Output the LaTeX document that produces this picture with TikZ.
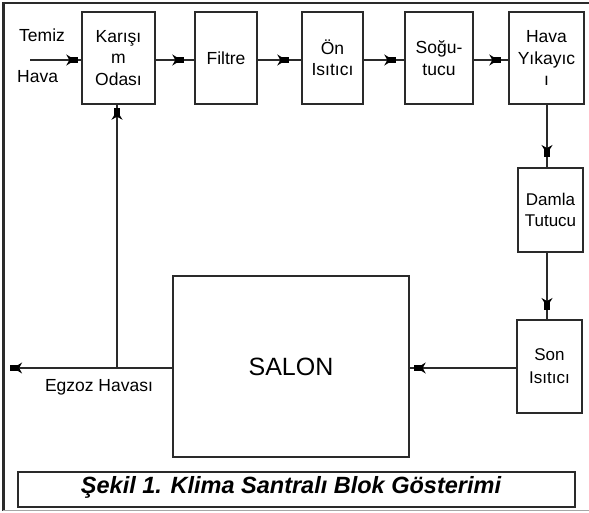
\documentclass[tikz,border=0pt]{standalone}
\usepackage{fontspec}
\setmainfont{Liberation Sans}
\usetikzlibrary{arrows.meta,decorations.markings}
\definecolor{ln}{HTML}{2A2A2A}
\tikzset{
  blk/.style={draw=ln, line width=1.4pt, rectangle, inner sep=0pt, align=center,
    font=\fontsize{17.5}{21.5}\selectfont},
  lbl/.style={inner sep=0pt, font=\fontsize{17.5}{21.5}\selectfont},
  flow/.style={draw=ln, line width=1.3pt, postaction={decorate},
    decoration={markings, mark=at position -#1 with {\arrow[black]{Stealth[length=9pt,width=11pt,inset=3pt,sep=-5pt]Square[length=8pt,width=6.5pt]}}}},
}
\begin{document}
\begin{tikzpicture}[x=1pt,y=-1pt]
\useasboundingbox (0,0) rectangle (589,512);
% outer frame
\draw[ln, line width=3pt] (3,2) -- (3,511);
\draw[ln, line width=1.4pt] (3,3) -- (589,3);
\draw[black!35, line width=1pt] (3,510.5) -- (589,510.5);
% boxes
\node[blk, minimum width=73pt, minimum height=92pt] (kar) at (118.5,58) {Karışı\\m\\Odası};
\node[blk, minimum width=62pt, minimum height=92pt] (fil) at (226,58) {Filtre};
\node[blk, minimum width=61pt, minimum height=92pt] (on) at (332.5,58) {Ön\\Isıtıcı};
\node[blk, minimum width=68pt, minimum height=92pt] (sog) at (439,58) {Soğu-\\tucu};
\node[blk, minimum width=75pt, minimum height=92pt] (hava) at (546.5,58) {Hava\\Yıkayıc\\ı};
\node[blk, minimum width=65pt, minimum height=84pt, font=\fontsize{17}{20.5}\selectfont] (damla) at (550.5,210) {Damla\\Tutucu};
\node[blk, minimum width=65pt, minimum height=93pt, font=\fontsize{17}{23}\selectfont] (son) at (549.5,366.5) {Son\\Isıtıcı};
\node[blk, minimum width=236pt, minimum height=181pt, font=\fontsize{25}{30}\selectfont] (salon) at (291,366.5) {SALON};
\node[draw=ln, line width=2pt, minimum width=557pt, minimum height=35pt, inner sep=0pt] (cap) at (296.5,489.5) {};
\node[inner sep=0pt, font=\fontsize{23.5}{28}\selectfont\bfseries\itshape] (captxt) at (291,487) {Şekil 1. Klima Santralı Blok Gösterimi};
% labels
\node[lbl, anchor=west] (temiz) at (19,35) {Temiz};
\node[lbl, anchor=west] (havain) at (17,77) {Hava};
\node[lbl] (egz) at (99,387) {Egzoz Havası};
% coordinates
\coordinate (in) at (30,60);
\coordinate (out) at (10,368);
\coordinate (jn) at (117,368);
% connectors
\draw[flow=3pt] (in) -- (in -| kar.west);
\draw[flow=10pt] (kar.east |- in) -- (fil.west |- in);
\draw[flow=12pt] (fil.east |- in) -- (on.west |- in);
\draw[flow=8pt] (on.east |- in) -- (sog.west |- in);
\draw[flow=7pt] (sog.east |- in) -- (hava.west |- in);
\draw[flow=11pt] (547,104) -- (547,168);
\draw[flow=10pt] (547,252) -- (547,320);
\draw[flow=4pt] (son.west |- out) -- (salon.east |- out);
\draw[flow=0.1pt] (salon.west |- out) -- (out);
\draw[flow=3pt] (jn) -- (jn |- kar.south);
\end{tikzpicture}
\end{document}
